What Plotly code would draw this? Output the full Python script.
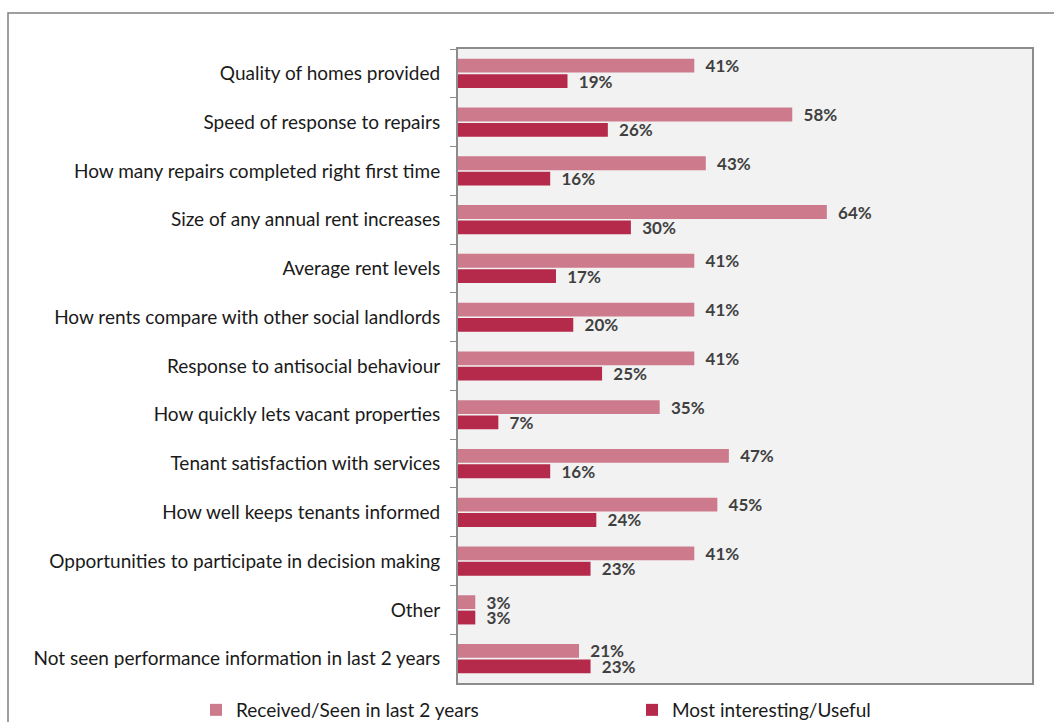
import plotly.graph_objects as go

categories = [
    "Quality of homes provided",
    "Speed of response to repairs",
    "How many repairs completed right first time",
    "Size of any annual rent increases",
    "Average rent levels",
    "How rents compare with other social landlords",
    "Response to antisocial behaviour",
    "How quickly lets vacant properties",
    "Tenant satisfaction with services",
    "How well keeps tenants informed",
    "Opportunities to participate in decision making",
    "Other",
    "Not seen performance information in last 2 years",
]
received_seen = [41, 58, 43, 64, 41, 41, 41, 35, 47, 45, 41, 3, 21]
most_useful = [19, 26, 16, 30, 17, 20, 25, 7, 16, 24, 23, 3, 23]

series_names = ["Received/Seen in last 2 years", "Most interesting/Useful"]
series_colors = ["#CD7A8C", "#B5294A"]

FONT = "Lato"
W, H = 1054, 722
ML, MR, MT, MB = 458, 22, 49, 39

fig = go.Figure()
for name, vals, col in zip(series_names, [received_seen, most_useful], series_colors):
    fig.add_trace(go.Bar(
        y=categories, x=vals, name=name, orientation="h",
        marker=dict(color=col, line=dict(width=0)),
        text=vals, texttemplate="  %{x}%", textposition="outside",
        constraintext="none",
        textfont=dict(family=FONT, size=17, color="#404040", weight="bold"),
        cliponaxis=False,
    ))

pw = W - ML - MR
ph = H - MT - MB
# outer chart frame (extends past the right and bottom page edges)
fx0 = (8 - ML) / pw
fy1 = 1 + (MT - 13) / ph

fig.update_layout(
    width=W, height=H,
    margin=dict(l=ML, r=MR, t=MT, b=MB, autoexpand=False),
    paper_bgcolor="white",
    plot_bgcolor="#F2F2F2",
    barmode="group",
    bargap=0.37,
    bargroupgap=0.1,
    font=dict(family=FONT, color="#1a1a1a"),
    xaxis=dict(range=[0, 99.6], showticklabels=False, showgrid=False,
               zeroline=False, showline=True, linecolor="#8C8C8C",
               linewidth=2, mirror=True, ticks=""),
    yaxis=dict(autorange="reversed", showgrid=False, showline=True,
               linecolor="#8C8C8C", linewidth=2, mirror=True,
               ticks="outside", tickson="boundaries", ticklen=6,
               tickcolor="#8C8C8C", tickwidth=1,
               tickfont=dict(family=FONT, size=19, color="#1a1a1a"),
               ticklabelstandoff=12),
    legend=dict(orientation="h", x=(196 - ML) / pw, xanchor="left",
                y=-(691 - H + MB) / ph, yanchor="top",
                font=dict(family=FONT, size=19, color="#1a1a1a"),
                entrywidth=391, entrywidthmode="pixels",
                itemwidth=30, bgcolor="rgba(0,0,0,0)"),
    shapes=[dict(type="rect", xref="paper", yref="paper",
                 x0=fx0, x1=1.2, y0=-0.2, y1=fy1,
                 line=dict(color="#7F7F7F", width=1.5), layer="below")],
)

fig.write_html("out.html")
